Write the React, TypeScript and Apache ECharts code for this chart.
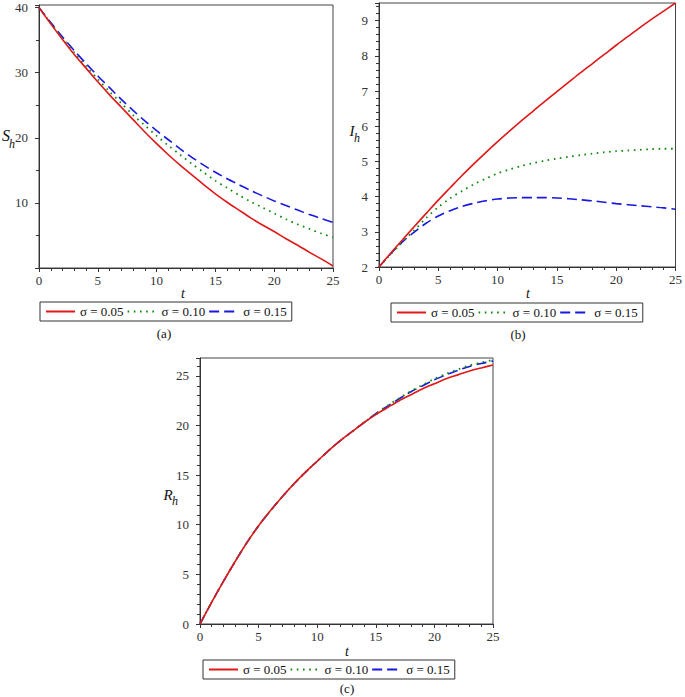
import React, { useEffect, useRef } from "react";
import * as echarts from "echarts";

const T = [0, 1, 2, 3, 4, 5, 6, 7, 8, 9, 10, 11, 12, 13, 14, 15, 16, 17, 18, 19, 20, 21, 22, 23, 24, 25];
const NAMES = ["σ = 0.05", "σ = 0.10", "σ = 0.15"];
const X_TICKS = [0, 5, 10, 15, 20, 25];

const SH_005 = [40, 37.5, 35.1, 32.8, 30.7, 28.6, 26.6, 24.7, 22.8, 20.9, 19.1, 17.4, 15.8, 14.3, 12.8, 11.4, 10.1, 8.9, 7.7, 6.6, 5.6, 4.5, 3.5, 2.4, 1.4, 0.3];
const SH_010 = [40, 37.6, 35.3, 33.1, 31.0, 29.0, 27.1, 25.3, 23.5, 21.9, 20.3, 18.8, 17.4, 16.0, 14.7, 13.4, 12.3, 11.2, 10.2, 9.3, 8.4, 7.5, 6.7, 6.0, 5.3, 4.7];
const SH_015 = [40, 37.7, 35.5, 33.4, 31.4, 29.5, 27.7, 25.9, 24.2, 22.6, 21.1, 19.7, 18.3, 17.0, 15.8, 14.7, 13.7, 12.8, 11.9, 11.1, 10.3, 9.6, 8.9, 8.2, 7.6, 7.0];

const IH_005 = [2.0, 2.4, 2.78, 3.16, 3.53, 3.9, 4.25, 4.6, 4.93, 5.25, 5.56, 5.86, 6.15, 6.43, 6.71, 6.98, 7.25, 7.52, 7.78, 8.04, 8.3, 8.55, 8.8, 9.04, 9.27, 9.5];
const IH_010 = [2.0, 2.37, 2.72, 3.05, 3.4, 3.7, 3.95, 4.16, 4.35, 4.51, 4.66, 4.77, 4.87, 4.95, 5.02, 5.08, 5.13, 5.18, 5.22, 5.26, 5.29, 5.31, 5.33, 5.35, 5.36, 5.36];
const IH_015 = [2.0, 2.38, 2.72, 3.0, 3.25, 3.45, 3.6, 3.72, 3.81, 3.88, 3.93, 3.96, 3.97, 3.97, 3.97, 3.96, 3.94, 3.91, 3.88, 3.84, 3.8, 3.77, 3.74, 3.71, 3.68, 3.64];

const RH_005 = [0, 2.2, 4.3, 6.3, 8.2, 9.9, 11.4, 12.8, 14.1, 15.3, 16.4, 17.5, 18.5, 19.4, 20.3, 21.1, 21.8, 22.5, 23.1, 23.7, 24.2, 24.7, 25.1, 25.5, 25.8, 26.1];
const RH_010 = [0, 2.2, 4.3, 6.3, 8.2, 9.9, 11.4, 12.8, 14.1, 15.3, 16.4, 17.5, 18.5, 19.4, 20.3, 21.2, 22.0, 22.75, 23.45, 24.1, 24.7, 25.2, 25.65, 26.05, 26.35, 26.6];
const RH_015 = [0, 2.2, 4.3, 6.3, 8.2, 9.9, 11.4, 12.8, 14.1, 15.3, 16.4, 17.5, 18.5, 19.4, 20.3, 21.2, 21.95, 22.7, 23.4, 24.0, 24.6, 25.1, 25.55, 25.95, 26.25, 26.5];

const FONT = "'Liberation Serif', 'Times New Roman', serif";
const COLORS = ["#e01818", "#0a8a0a", "#1818e0"];
const DASH: any[] = ["solid", [1.6, 4.6], [10, 5]];

export default function App() {
  const ref = useRef<HTMLDivElement>(null);
  useEffect(() => {
    if (!ref.current) return;
    const chart = echarts.init(ref.current, null, { renderer: "svg" });

    const grids = [
      { left: 39, top: 5, width: 294, height: 263 },
      { left: 379, top: 3, width: 303, height: 264 },
      { left: 200, top: 358, width: 293, height: 266 },
    ];
    const yCfg = [
      { min: 0, max: 40.4, interval: 10, minor: 2, hide: [0] },
      { min: 2, max: 9.5, interval: 1, minor: 5, hide: [] as number[] },
      { min: 0, max: 26.8, interval: 5, minor: 5, hide: [] as number[] },
    ];
    const data = [
      [SH_005, SH_010, SH_015],
      [IH_005, IH_010, IH_015],
      [RH_005, RH_010, RH_015],
    ];
    const legendPos = [
      { left: 40, top: 302 },
      { left: 391, top: 303 },
      { left: 203, top: 660 },
    ];

    const axisCommon = {
      axisLine: { show: true, onZero: false, lineStyle: { color: "#333", width: 1 } },
      axisTick: { show: true, length: 4, lineStyle: { color: "#333" } },
      splitLine: { show: false },
    };

    const xAxis = grids.map((_, i) => ({
      type: "value",
      gridIndex: i,
      min: X_TICKS[0],
      max: X_TICKS[X_TICKS.length - 1],
      interval: 5,
      ...axisCommon,
      minorTick: { show: true, splitNumber: 5, length: 3, lineStyle: { color: "#333" } },
      axisLabel: { fontFamily: FONT, fontSize: 13, color: "#333", margin: 6 },
    }));

    const yAxis = yCfg.map((c, i) => ({
      type: "value",
      gridIndex: i,
      min: c.min,
      max: c.max,
      interval: c.interval,
      ...axisCommon,
      minorTick: { show: true, splitNumber: c.minor, length: 3, lineStyle: { color: "#333" } },
      axisLabel: {
        fontFamily: FONT,
        fontSize: 13,
        color: "#333",
        margin: 11,
        formatter: (v: number) => {
          const r = Math.round(v / c.interval) * c.interval;
          if (Math.abs(r - v) > 1e-6) return "";
          if (c.hide.indexOf(r) >= 0) return "";
          return String(r);
        },
      },
    }));

    const series: any[] = [];
    data.forEach((group, gi) => {
      group.forEach((vals, si) => {
        series.push({
          type: "line",
          name: NAMES[si],
          xAxisIndex: gi,
          yAxisIndex: gi,
          data: T.map((t, k) => [t, vals[k]]),
          symbol: "none",
          showSymbol: false,
          smooth: 0.3,
          lineStyle: { color: COLORS[si], width: si === 1 ? 1.8 : 1.6, type: DASH[si] },
          itemStyle: { color: COLORS[si] },
          z: 3 - si,
        });
      });
    });

    const legend = legendPos.map((p) => ({
      left: p.left,
      top: p.top,
      orient: "horizontal",
      padding: [3, 5, 3, 5],
      itemGap: 3,
      itemWidth: 29,
      itemHeight: 12,
      icon: "inherit",
      itemStyle: { opacity: 0 },
      borderColor: "#333",
      borderWidth: 1,
      selectedMode: false,
      data: NAMES,
      textStyle: { fontFamily: FONT, fontSize: 13, color: "#111" },
    }));

    const txt = (x: number, y: number, text: string, size: number, italic: boolean) => ({
      type: "text",
      x,
      y,
      style: {
        text,
        font: `${italic ? "italic " : ""}${size}px ${FONT}`,
        fill: "#111",
        textAlign: "center",
        textVerticalAlign: "middle",
        align: "center",
        verticalAlign: "middle",
      },
    });

    const graphic = [
      txt(6, 135, "S", 16, true),
      txt(12, 144, "h", 12, true),
      txt(352, 131, "I", 15, true),
      txt(357, 138, "h", 12, true),
      txt(168, 495, "R", 15, true),
      txt(175, 501, "h", 12, true),
      txt(183, 293, "t", 14, true),
      txt(528, 293, "t", 14, true),
      txt(347, 651, "t", 14, true),
      txt(164, 333, "(a)", 13, false),
      txt(518, 334, "(b)", 13, false),
      txt(347, 688, "(c)", 13, false),
    ];

    chart.setOption({
      animation: false,
      backgroundColor: "#ffffff",
      grid: grids.map((g) => ({ ...g, show: true, borderColor: "#444", borderWidth: 1, backgroundColor: "transparent" })),
      xAxis,
      yAxis,
      series,
      legend,
      graphic,
    });
    return () => chart.dispose();
  }, []);
  return <div ref={ref} style={{ position: "absolute", left: 0, top: 0, width: 685, height: 697 }} />;
}
